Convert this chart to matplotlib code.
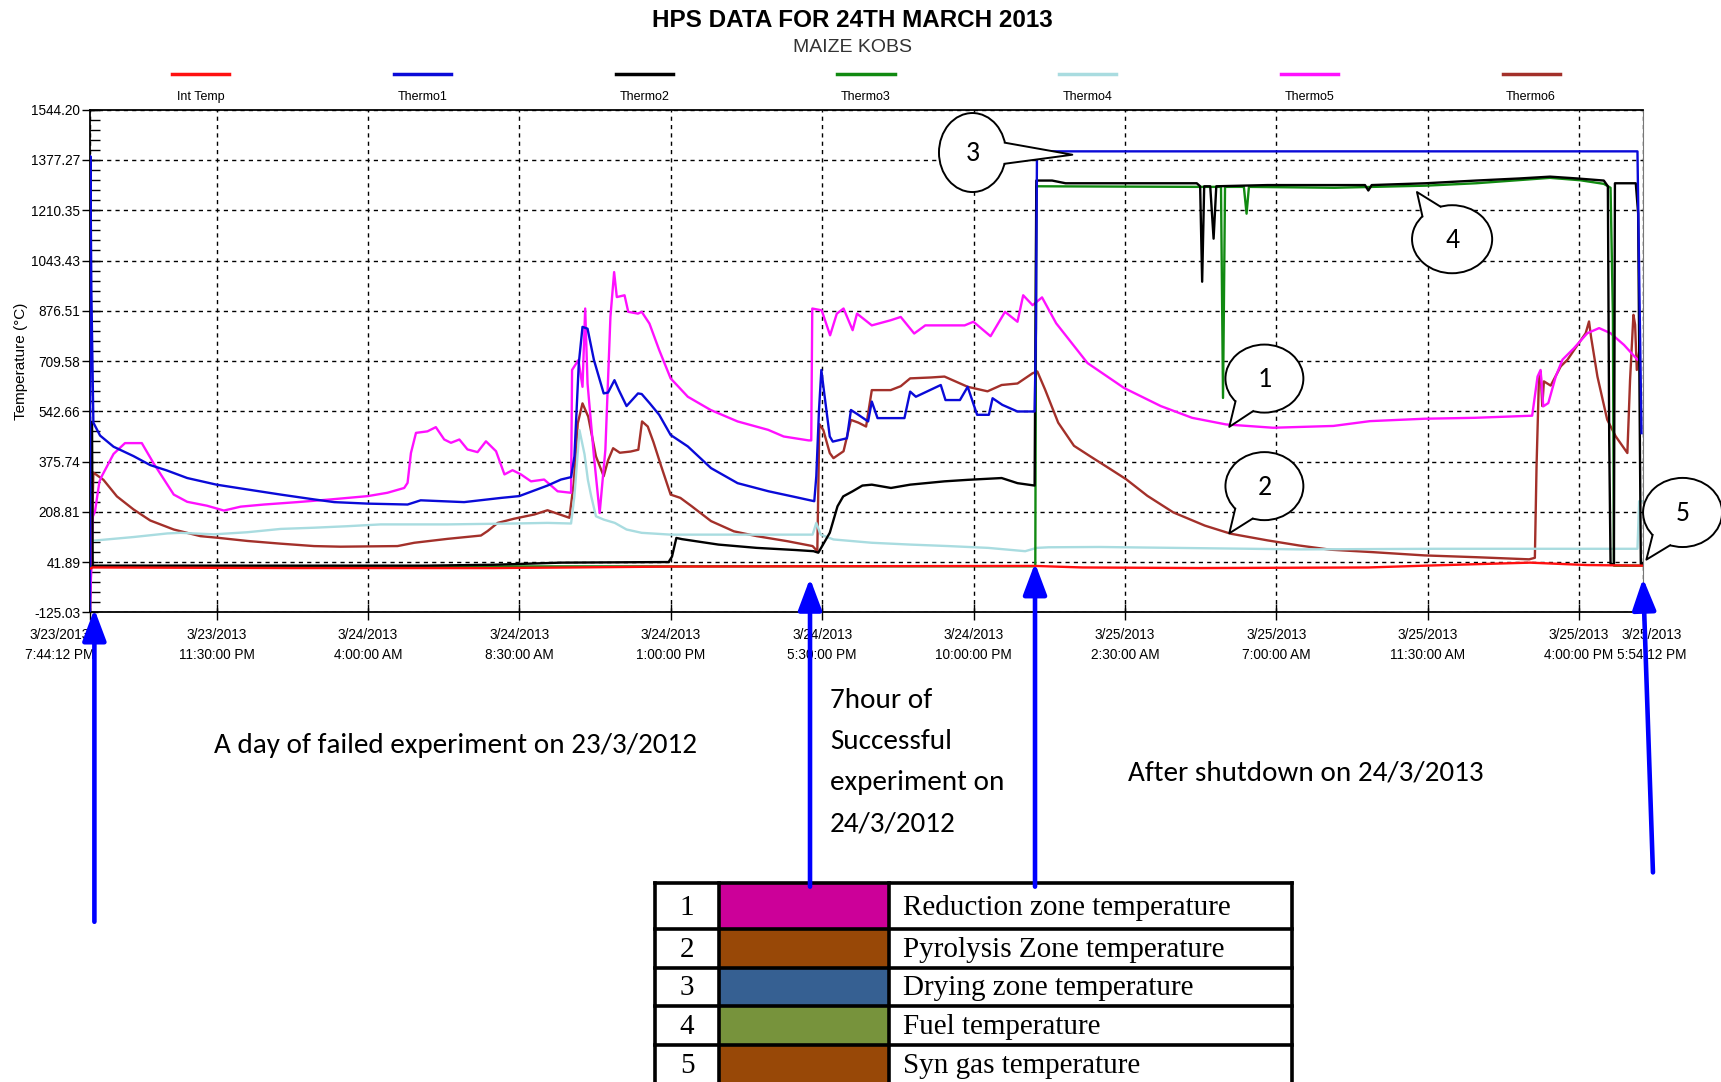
import matplotlib
matplotlib.use("Agg")
import matplotlib.pyplot as plt
import numpy as np
from matplotlib import font_manager
from matplotlib.patches import Ellipse, Polygon, Rectangle
from matplotlib.ticker import AutoMinorLocator
from matplotlib.transforms import ScaledTranslation

# ---- data: hours after 3/23/2013 7:44:12 PM, temperature in degC ----
SERIES = ["Int Temp", "Thermo1", "Thermo2", "Thermo3", "Thermo4", "Thermo5", "Thermo6"]
COLORS = ["#FF1010", "#0A0AD8", "#000000", "#118A11", "#A9DCE0", "#FF10FF", "#A3302A"]

t_int = [0, 0.08, 6, 12, 14.3, 17.3, 21.7, 28.1, 29.5, 33, 38, 39.7, 42.8, 44.5, 46.17]
v_int = [20, 24, 22, 22, 24, 27, 28, 29, 24, 22, 24, 30, 40, 32, 30]

t_th1 = [0, 0.01, 0.04, 0.1, 0.3, 0.7, 1.29, 1.79, 2.29, 2.89, 3.76, 4.68, 5.67, 6.66,
         7.26, 8.26, 9.44, 9.83, 11.12, 12.22, 12.76, 13.6, 14.0, 14.3, 14.4, 14.53,
         14.64, 14.79, 14.98, 15.27, 15.4, 15.59, 15.72, 15.95, 16.29, 16.4, 16.64,
         16.92, 17.26, 17.77, 18.46, 19.25, 20.17, 20.96, 21.53, 21.59, 21.67, 21.74,
         21.82, 21.99, 22.08, 22.5, 22.62, 22.84, 23.13, 23.24, 23.41, 24.21, 24.38,
         24.55, 25.29, 25.43, 25.86, 26.09, 26.37, 26.72, 26.83, 27.12, 27.57, 28.08,
         28.12, 28.15, 46.0, 46.05, 46.12]
v_th1 = [-120, 1390, 945, 505, 462, 425, 394, 364, 346, 321, 299, 283, 266, 250,
         241, 236, 233, 247, 241, 255, 261, 296, 316, 324, 393, 702,
         823, 817, 713, 602, 605, 646, 613, 560, 602, 600, 569,
         531, 464, 426, 354, 304, 277, 258, 244, 327, 547, 680,
         608, 459, 442, 453, 547, 531, 509, 575, 520, 520, 608,
         591, 630, 580, 580, 624, 531, 531, 586, 564, 542, 542,
         817, 1406, 1406, 1000, 470]

t_th2 = [0, 0.06, 0.08, 5, 10, 12, 14, 17.2, 17.3, 17.43, 17.6, 18.68, 19.82, 20.96,
         21.51, 21.65, 21.82, 21.99, 22.22, 22.39, 22.67, 22.96, 23.24, 23.81, 24.38,
         25.4, 26.09, 27.1, 27.57, 28.08, 28.13, 28.6, 29.0, 32.9, 33.0, 33.06, 33.12,
         33.3, 33.4, 33.48, 35.0, 37.9, 38.0, 38.1, 39.7, 41.2, 42.5, 43.4, 44.2, 45.0,
         45.12, 45.16, 45.2, 45.3, 45.33, 45.95, 46.02, 46.1, 46.17]
v_th2 = [505, 505, 30, 30, 30, 33, 40, 42, 60, 122, 118, 100, 89, 82,
         78, 73, 106, 139, 227, 260, 277, 296, 299, 288, 299,
         310, 315, 321, 304, 296, 1309, 1309, 1300, 1300, 1290, 973, 1290,
         1290, 1116, 1290, 1294, 1294, 1276, 1294, 1300, 1309, 1316, 1322, 1316, 1309,
         1290, 450, 35, 35, 1300, 1300, 1200, 35, 35]

t_th3 = [0, 28.1, 28.13, 33.0, 33.26, 33.62, 33.68, 33.74, 34.3, 34.38, 34.45, 37.0,
         39.7, 41.2, 43.4, 44.3, 45.0, 45.2, 45.27, 45.3, 46.17]
v_th3 = [27, 28, 1290, 1288, 1288, 1288, 587, 1288, 1288, 1199, 1288, 1285,
         1292, 1300, 1318, 1310, 1298, 1285, 860, 30, 30]

t_th4 = [0.1, 1.29, 2.3, 2.69, 3.68, 4.68, 5.67, 6.66, 7.65, 8.64, 10.63, 12.61, 13.6,
         14.3, 14.4, 14.55, 14.7, 14.8, 14.9, 15.04, 15.27, 15.6, 15.95, 16.4, 17.26,
         19.0, 21.48, 21.59, 21.72, 22.1, 23.24, 24.38, 25.52, 26.7, 27.8, 28.14, 28.5,
         30.0, 33.0, 36.0, 40.0, 43.0, 46.0, 46.05, 46.15]
v_th4 = [113, 125, 137, 139, 134, 141, 152, 156, 161, 167, 167, 170, 172,
         170, 261, 480, 400, 315, 260, 194, 183, 172, 150, 139, 133,
         133, 133, 172, 133, 117, 106, 100, 95, 89, 78, 89, 91,
         92, 88, 84, 86, 86, 86, 244, 244]

t_th5 = [0, 0.08, 0.15, 0.28, 0.35, 0.7, 1.04, 1.54, 1.89, 2.49, 2.89, 3.48, 3.98, 4.48,
         5.17, 6.16, 7.16, 8.26, 8.84, 9.34, 9.44, 9.54, 9.69, 10.03, 10.28, 10.53,
         10.73, 10.98, 11.22, 11.52, 11.77, 12.07, 12.32, 12.56, 12.81, 13.11, 13.5,
         13.9, 14.3, 14.33, 14.52, 14.64, 14.72, 14.79, 14.98, 15.15, 15.32, 15.47,
         15.58, 15.66, 15.89, 16.0, 16.29, 16.4, 16.63, 16.92, 17.26, 17.77, 18.45,
         19.25, 20.16, 20.62, 21.36, 21.44, 21.47, 21.75, 22.0, 22.2, 22.4, 22.67, 22.8,
         23.24, 23.8, 24.1, 24.5, 24.83, 25.5, 26.0, 26.26, 26.77, 27.2, 27.57, 27.74,
         28.02, 28.3, 28.72, 29.65, 30.74, 31.83, 32.76, 33.77, 35.17, 36.96, 38.05,
         39.68, 41.16, 42.87, 43.03, 43.12, 43.2, 43.35, 43.57, 43.77, 44.11, 44.51,
         44.86, 45.2, 45.6, 46.0, 46.05]
v_th5 = [-120, 192, 211, 309, 327, 401, 437, 437, 370, 266, 242, 229, 213, 226,
         233, 241, 250, 261, 272, 288, 305, 404, 471, 476, 490, 449,
         438, 449, 416, 407, 443, 410, 333, 347, 333, 310, 316,
         277, 272, 680, 713, 624, 884, 635, 393, 205, 415, 856,
         1005, 922, 928, 873, 867, 873, 834, 746, 652, 591, 547,
         509, 481, 459, 446, 446, 884, 878, 795, 867, 884, 812, 867,
         828, 845, 856, 801, 828, 828, 828, 840, 792, 873, 840, 928,
         895, 921, 835, 703, 620, 560, 521, 499, 488, 494, 510,
         518, 521, 528, 658, 680, 559, 570, 658, 714, 752, 802,
         819, 802, 763, 714, 714]

t_th6 = [0, 0.1, 0.4, 0.8, 1.29, 1.79, 2.49, 3.28, 3.76, 4.68, 5.67, 6.66, 7.45, 9.14,
         9.64, 10.63, 11.62, 11.82, 12.12, 12.61, 13.21, 13.6, 14.25, 14.38, 14.5,
         14.64, 14.81, 15.04, 15.27, 15.4, 15.55, 15.75, 16.07, 16.3, 16.41, 16.58,
         16.75, 16.98, 17.26, 17.55, 17.89, 18.46, 19.14, 19.82, 20.74, 21.48, 21.62,
         21.68, 21.8, 21.99, 22.1, 22.4, 22.62, 22.84, 23.07, 23.24, 23.8, 24.1, 24.38,
         25.0, 25.4, 26.09, 26.68, 27.1, 27.57, 28.02, 28.16, 28.39, 28.78, 29.25,
         29.72, 30.34, 30.8, 31.43, 32.2, 33.14, 33.91, 35.0, 35.94, 36.87, 38.11,
         39.67, 41.22, 42.78, 42.95, 43.0, 43.07, 43.12, 43.17, 43.22, 43.42, 43.72,
         43.92, 44.2, 44.46, 44.56, 44.62, 44.81, 45.1, 45.35, 45.7, 45.78, 45.88,
         45.93, 45.98, 46.05]
v_th6 = [-120, 339, 315, 260, 217, 180, 150, 128, 123, 112, 103, 95, 93, 95,
         106, 119, 130, 145, 172, 186, 200, 214, 189, 304, 503,
         569, 525, 393, 327, 380, 420, 405, 409, 415, 509, 492,
         440, 360, 266, 255, 227, 178, 144, 128, 111, 95, 78,
         500, 480, 404, 387, 410, 514, 505, 492, 613, 613, 626, 652,
         655, 658, 624, 609, 630, 635, 669, 675, 615, 505, 428,
         394, 350, 317, 262, 207, 163, 136, 114, 97, 83, 75,
         64, 58, 51, 56, 360, 647, 675, 560, 642, 628, 692,
         714, 760, 802, 841, 790, 658, 515, 460, 404, 647, 863,
         830, 680, 740]

SERIES_T = [t_int, t_th1, t_th2, t_th3, t_th4, t_th5, t_th6]
SERIES_V = [v_int, v_th1, v_th2, v_th3, v_th4, v_th5, v_th6]

XTICK_HOURS = [0, 3.7633, 8.2633, 12.7633, 17.2633, 21.7633, 26.2633, 30.7633,
               35.2633, 39.7633, 44.2633, 46.1667]
XTICK_LABELS = ["3/23/2013\n7:44:12 PM", "3/23/2013\n11:30:00 PM", "3/24/2013\n4:00:00 AM",
                "3/24/2013\n8:30:00 AM", "3/24/2013\n1:00:00 PM", "3/24/2013\n5:30:00 PM",
                "3/24/2013\n10:00:00 PM", "3/25/2013\n2:30:00 AM", "3/25/2013\n7:00:00 AM",
                "3/25/2013\n11:30:00 AM", "3/25/2013\n4:00:00 PM", "3/25/2013\n5:54:12 PM"]
YTICKS = [-125.03, 41.89, 208.81, 375.74, 542.66, 709.58, 876.51, 1043.43, 1210.35,
          1377.27, 1544.20]

TABLE_NUM = ["1", "2", "3", "4", "5"]
TABLE_COLORS = ["#CC0099", "#984807", "#366092", "#77933C", "#984807"]
TABLE_TEXT = ["Reduction zone temperature", "Pyrolysis Zone temperature",
              "Drying zone temperature", "Fuel temperature", "Syn gas temperature"]

# ---- fonts ----
names = {f.name for f in font_manager.fontManager.ttflist}
if "Liberation Sans Narrow" in names:
    TICK_FONT, TICK_SIZE, LEG_SIZE = "Liberation Sans Narrow", 11, 10.5
else:
    TICK_FONT, TICK_SIZE, LEG_SIZE = "Liberation Sans", 9.8, 9
NOTE_FONT = ["Carlito", "Lato", "DejaVu Sans"]
SERIF = ["Liberation Serif", "DejaVu Serif"]
plt.rcParams["font.family"] = ["Liberation Sans", "DejaVu Sans"]

W, H = 1568, 986  # overlay coordinate frame

fig = plt.figure(figsize=(17.21, 10.82), dpi=100)
ax = fig.add_axes([82 / W, 1 - 558 / H, (1497 - 82) / W, (558 - 100) / H])

for i in reversed(range(len(SERIES))):
    ax.plot(SERIES_T[i], SERIES_V[i], color=COLORS[i], lw=1.7, zorder=2 + (7 - i) * 0.1)

ax.set_xlim(0, 46.1667)
ax.set_ylim(-125.03, 1544.20)
ax.set_yticks(YTICKS, [f"{v:.2f}" for v in YTICKS], fontfamily=TICK_FONT, fontsize=TICK_SIZE)
ax.set_xticks(XTICK_HOURS, XTICK_LABELS, fontfamily=TICK_FONT, fontsize=TICK_SIZE,
              linespacing=1.55)
ax.yaxis.set_minor_locator(AutoMinorLocator(5))
ax.tick_params(axis="y", which="major", direction="inout", length=11, width=1, pad=1.5)
ax.tick_params(axis="y", which="minor", direction="in", length=7, width=1)
ax.tick_params(axis="x", which="major", direction="inout", length=12, width=1, pad=5)
ax.grid(True, which="major", color="black", ls=(0, (3, 3)), lw=1.0)
for s in ("left", "bottom", "top"):
    ax.spines[s].set_linewidth(1.3)
ax.spines["right"].set_color("#777777")
ax.set_ylabel("Temperature (°C)", fontsize=11)
ax.yaxis.set_label_coords(-0.040, 0.5)

labs = ax.get_xticklabels()
labs[0].set_transform(labs[0].get_transform() + ScaledTranslation(-0.30, 0, fig.dpi_scale_trans))
labs[-1].set_transform(labs[-1].get_transform() + ScaledTranslation(0.09, 0, fig.dpi_scale_trans))

# ---- overlay in reference pixel frame ----
ov = fig.add_axes([0, 0, 1, 1], zorder=10)
ov.set_xlim(0, W)
ov.set_ylim(H, 0)
ov.axis("off")
ov.patch.set_alpha(0)

ov.text(777, 19, "HPS DATA FOR 24TH MARCH 2013", ha="center", va="center",
        fontsize=17.5, fontweight="bold")
ov.text(777, 43, "MAIZE KOBS", ha="center", va="center", fontsize=14, color="#333333")

for i, name in enumerate(SERIES):
    cx = 183 + 202 * i
    ov.plot([cx - 26, cx + 26], [67, 67], color=COLORS[i], lw=2.5)
    ov.text(cx, 88, name, ha="center", va="center", fontfamily=TICK_FONT, fontsize=LEG_SIZE)


def callout(cx, cy, w, h, tip, label):
    ang = np.arctan2((tip[1] - cy) / (h / 2), (tip[0] - cx) / (w / 2))
    d = 0.27
    b1 = (cx + w / 2 * np.cos(ang - d), cy + h / 2 * np.sin(ang - d))
    b2 = (cx + w / 2 * np.cos(ang + d), cy + h / 2 * np.sin(ang + d))
    ov.add_patch(Ellipse((cx, cy), w, h, fc="white", ec="black", lw=1.4, zorder=5))
    ov.add_patch(Polygon([(cx, cy), b1, tip, b2], closed=True, fc="white", ec="none", zorder=6))
    ov.plot([b1[0], tip[0], b2[0]], [b1[1], tip[1], b2[1]], color="black", lw=1.4, zorder=7)
    ov.text(cx, cy + 1, label, ha="center", va="center", fontsize=20,
            fontfamily=NOTE_FONT, zorder=8)


callout(886, 139, 61, 72, (977, 141), "3")
callout(1323, 218, 73, 62, (1291, 175), "4")
callout(1152, 345, 71, 62, (1120, 389), "1")
callout(1152, 443, 71, 62, (1120, 486), "2")
callout(1533, 467, 72, 63, (1500, 510), "5")

arrow = dict(arrowstyle="-|>,head_length=0.8,head_width=0.3", color="#0000FF", lw=3.3,
             mutation_scale=24, shrinkA=0, shrinkB=0)
for tail, tip in [((86, 840), (86, 555)), ((738, 808), (738, 527)),
                  ((943, 808), (943, 513)), ((1506, 795), (1497, 527))]:
    ov.annotate("", xy=tip, xytext=tail, arrowprops=arrow, zorder=9)

ov.text(415, 679, "A day of failed experiment on 23/3/2012", ha="center", va="center",
        fontsize=21, fontfamily=NOTE_FONT)
for k, line in enumerate(["7hour of", "Successful", "experiment on", "24/3/2012"]):
    ov.text(756, 638 + 37.7 * k, line, ha="left", va="center", fontsize=21,
            fontfamily=NOTE_FONT)
ov.text(1190, 704, "After shutdown on 24/3/2013", ha="center", va="center",
        fontsize=21, fontfamily=NOTE_FONT)

# ---- colour key table ----
row_y = [805, 847, 882, 917, 952, 988]
for r in range(len(TABLE_NUM)):
    y0, y1 = row_y[r], row_y[r + 1]
    ov.add_patch(Rectangle((655, y0), 155, y1 - y0, fc=TABLE_COLORS[r], ec="none", zorder=3))
    ov.text(626, (y0 + y1) / 2 + 1, TABLE_NUM[r], ha="center", va="center",
            fontsize=21, fontfamily=SERIF)
    ov.text(823, (y0 + y1) / 2 + 1, TABLE_TEXT[r], ha="left", va="center",
            fontsize=21, fontfamily=SERIF)
for y in row_y:
    ov.plot([597, 1177], [y, y], color="black", lw=2.6, zorder=4, solid_capstyle="projecting")
for x in (597, 655, 810, 1177):
    ov.plot([x, x], [805, 988], color="black", lw=2.6, zorder=4)

fig.savefig("out.png", dpi=100)
